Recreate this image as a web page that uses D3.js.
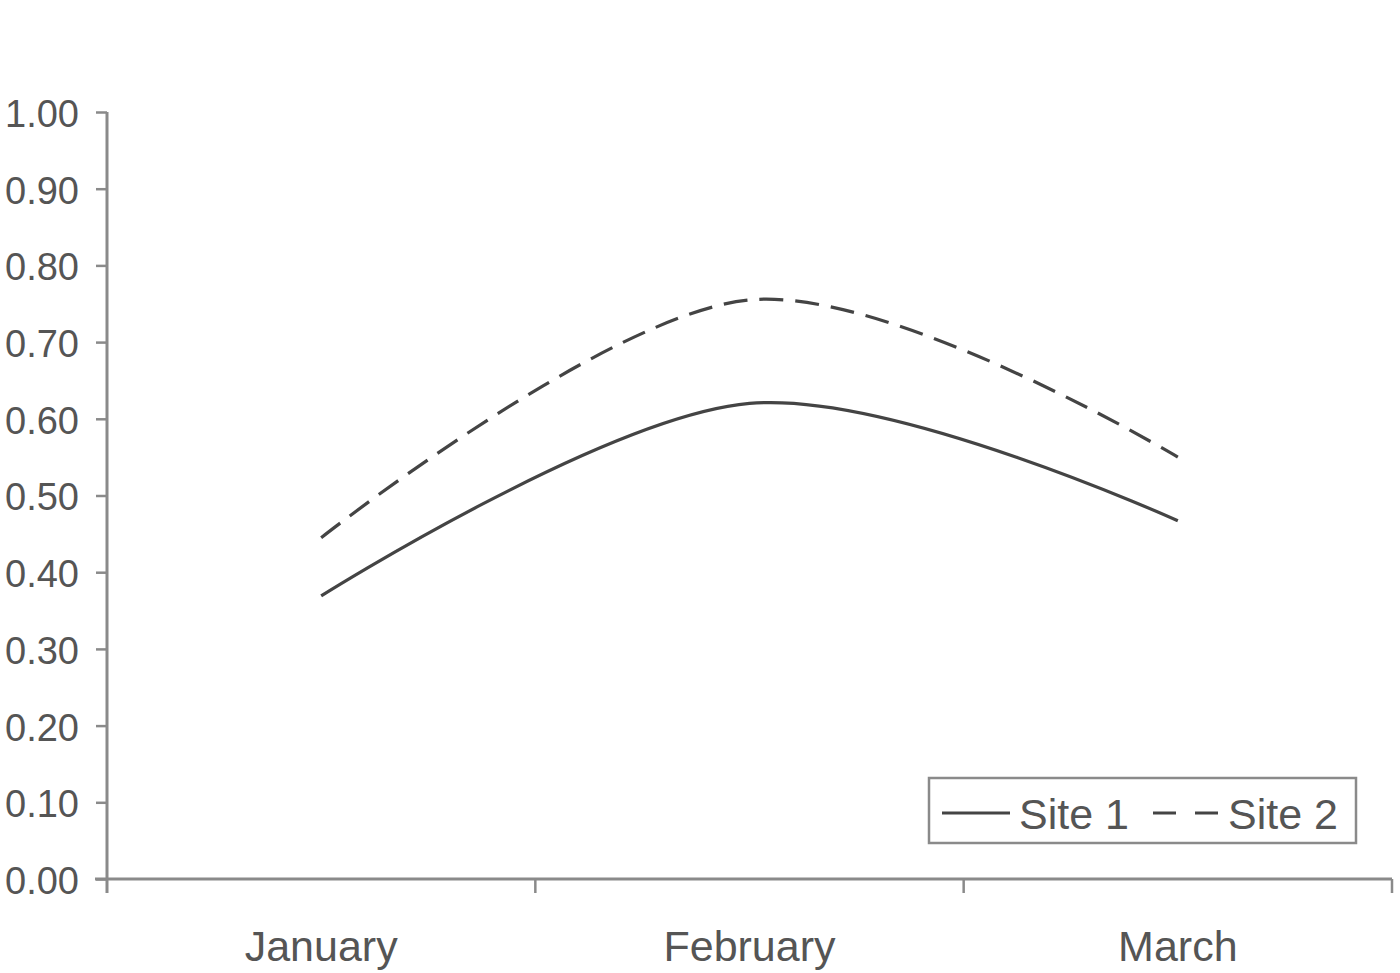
<!DOCTYPE html>
<html>
<head>
<meta charset="utf-8">
<script src="https://cdn.jsdelivr.net/npm/d3@7/dist/d3.min.js"></script>
<style>
  body { margin: 0; background: #fff; }
  svg { display: block; font-family: "Liberation Sans", Arial, sans-serif; }
</style>
</head>
<body>
<div id="chart"></div>
<script>
// data
var months = ["January", "February", "March"];
var site1 = [0.369, 0.62, 0.467];
var site2 = [0.445, 0.755, 0.55];
var yTicks = [0, 0.1, 0.2, 0.3, 0.4, 0.5, 0.6, 0.7, 0.8, 0.9, 1.0];
var seriesNames = ["Site 1", "Site 2"];

(function() {
var W = 1400, H = 973;
var plotLeft = 107, plotRight = 1392, plotTop = 112, plotBottom = 879;
var axisColor = "#8a8a8a", lineColor = "#444", textColor = "#555";

var svg = d3.select("#chart").append("svg")
    .attr("width", W)
    .attr("height", H);

var x = d3.scaleBand().domain(months).range([plotLeft, plotRight]);
var y = d3.scaleLinear().domain([0, 1]).range([plotBottom, plotTop]);

// y axis
var yAxisG = svg.append("g")
    .attr("transform", "translate(" + plotLeft + ",0)")
    .call(d3.axisLeft(y).tickValues(yTicks).tickFormat(d3.format(".2f")).tickSize(11).tickSizeOuter(0));
yAxisG.select(".domain").remove();
yAxisG.append("line")
    .attr("x1", 0).attr("x2", 0)
    .attr("y1", plotTop).attr("y2", plotBottom + 14)
    .attr("stroke", axisColor).attr("stroke-width", 3);
yAxisG.selectAll(".tick line").attr("stroke", axisColor).attr("stroke-width", 2.5);
yAxisG.selectAll(".tick text")
    .attr("x", -28)
    .attr("dy", "0.38em")
    .attr("fill", textColor)
    .style("font-size", "38px")
    .style("font-family", "'Liberation Sans', Arial, sans-serif");

// x axis
var xAxisG = svg.append("g");
xAxisG.append("line")
    .attr("x1", plotLeft - 12).attr("x2", plotRight)
    .attr("y1", plotBottom).attr("y2", plotBottom)
    .attr("stroke", axisColor).attr("stroke-width", 3);
var bounds = months.map(function(m) { return x(m); }).concat([x(months[months.length - 1]) + x.bandwidth()]);
xAxisG.selectAll("line.xtick").data(bounds.slice(1)).enter().append("line")
    .attr("class", "xtick")
    .attr("x1", function(d) { return d; }).attr("x2", function(d) { return d; })
    .attr("y1", plotBottom).attr("y2", plotBottom + 14)
    .attr("stroke", axisColor).attr("stroke-width", 2.5);
xAxisG.selectAll("text").data(months).enter().append("text")
    .attr("x", function(d) { return x(d) + x.bandwidth() / 2; })
    .attr("y", 961)
    .attr("text-anchor", "middle")
    .attr("fill", textColor)
    .style("font-size", "43px")
    .text(function(d) { return d; });

// lines
var line = d3.line()
    .x(function(d, i) { return x(months[i]) + x.bandwidth() / 2; })
    .y(function(d) { return y(d); })
    .curve(d3.curveCardinal.tension(0));

svg.append("path")
    .datum(site1)
    .attr("d", line)
    .attr("fill", "none")
    .attr("stroke", lineColor)
    .attr("stroke-width", 3.2);

svg.append("path")
    .datum(site2)
    .attr("d", line)
    .attr("fill", "none")
    .attr("stroke", lineColor)
    .attr("stroke-width", 3.2)
    .attr("stroke-dasharray", "24,12");

// legend
var lg = svg.append("g");
lg.append("rect")
    .attr("x", 929).attr("y", 778)
    .attr("width", 427).attr("height", 65)
    .attr("fill", "#fff")
    .attr("stroke", axisColor).attr("stroke-width", 2.5);
var legendItems = [
    {name: seriesNames[0], x0: 942, x1: 1010, tx: 1019, dash: null},
    {name: seriesNames[1], x0: 1153, x1: 1218, tx: 1228, dash: "23,19"}
];
legendItems.forEach(function(it) {
    lg.append("line")
        .attr("x1", it.x0).attr("x2", it.x1)
        .attr("y1", 813).attr("y2", 813)
        .attr("stroke", lineColor).attr("stroke-width", 3.2)
        .attr("stroke-dasharray", it.dash);
    lg.append("text")
        .attr("x", it.tx).attr("y", 829)
        .attr("fill", textColor)
        .style("font-size", "43px")
        .text(it.name);
});
})();
</script>
</body>
</html>
